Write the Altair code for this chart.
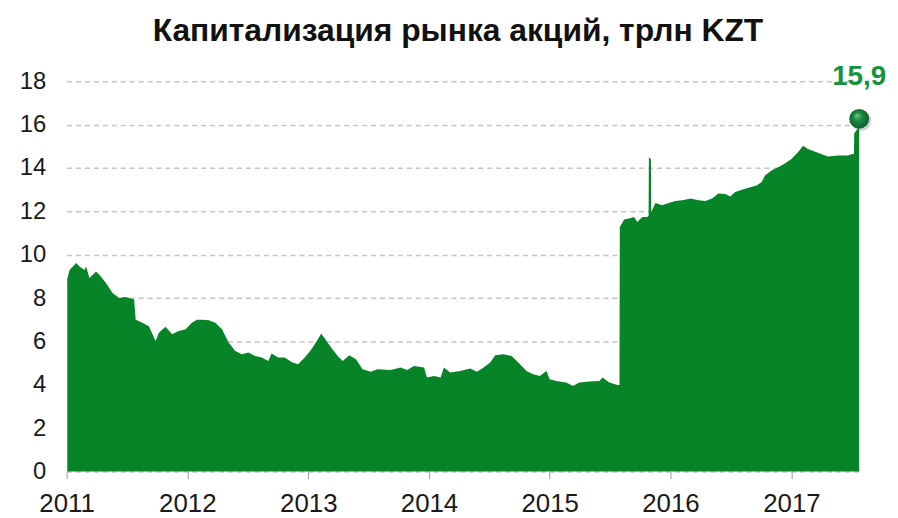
import altair as alt
import pandas as pd

dates = [
    "2011-01-03", "2011-01-10", "2011-01-30", "2011-02-09", "2011-02-24", "2011-03-01",
    "2011-03-11", "2011-03-31", "2011-04-10", "2011-04-30", "2011-05-20", "2011-06-09",
    "2011-06-29", "2011-07-19", "2011-07-24", "2011-07-29", "2011-08-18", "2011-09-07",
    "2011-09-27", "2011-10-07", "2011-10-27", "2011-11-16", "2011-12-06", "2011-12-27",
    "2012-01-15", "2012-01-30", "2012-02-14", "2012-03-06", "2012-03-26", "2012-04-15",
    "2012-05-05", "2012-05-25", "2012-06-14", "2012-07-04", "2012-07-24", "2012-08-13",
    "2012-09-02", "2012-09-12", "2012-10-02", "2012-10-22", "2012-11-11", "2012-12-01",
    "2012-12-21", "2013-01-10", "2013-01-30", "2013-02-09", "2013-02-24", "2013-03-11",
    "2013-03-31", "2013-04-15", "2013-05-05", "2013-05-25", "2013-06-14", "2013-07-09",
    "2013-07-29", "2013-09-07", "2013-10-07", "2013-10-27", "2013-11-16", "2013-12-17",
    "2013-12-26", "2014-01-16", "2014-02-05", "2014-02-15", "2014-03-06", "2014-04-05",
    "2014-05-06", "2014-05-26", "2014-06-15", "2014-07-05", "2014-07-20", "2014-08-14",
    "2014-09-08", "2014-09-28", "2014-10-23", "2014-11-12", "2014-12-02", "2014-12-22",
    "2015-01-01", "2015-01-21", "2015-02-20", "2015-03-12", "2015-04-01", "2015-05-01",
    "2015-05-31", "2015-06-10", "2015-06-30", "2015-07-25", "2015-07-31", "2015-08-01",
    "2015-08-14", "2015-08-29", "2015-09-13", "2015-09-23", "2015-10-08", "2015-10-23",
    "2015-10-27", "2015-10-28", "2015-11-03", "2015-11-04", "2015-11-17", "2015-12-07",
    "2015-12-27", "2016-01-16", "2016-02-06", "2016-03-02", "2016-03-26", "2016-04-16",
    "2016-05-06", "2016-05-25", "2016-06-15", "2016-06-30", "2016-07-15", "2016-08-04",
    "2016-08-24", "2016-09-18", "2016-10-03", "2016-10-13", "2016-11-02", "2016-11-22",
    "2016-12-12", "2017-01-01", "2017-01-21", "2017-02-05", "2017-02-20", "2017-03-12",
    "2017-04-01", "2017-04-21", "2017-05-21", "2017-06-20", "2017-07-05", "2017-07-09",
    "2017-07-10", "2017-07-25",
]
values = [
    8.88, 9.30, 9.62, 9.46, 9.30, 9.46,
    8.93, 9.23, 9.08, 8.70, 8.24, 8.00,
    8.05, 7.96, 7.95, 7.00, 6.86, 6.70,
    6.02, 6.40, 6.68, 6.33, 6.48, 6.56,
    6.86, 7.00, 7.00, 6.98, 6.86, 6.56,
    5.95, 5.56, 5.41, 5.49, 5.33, 5.26,
    5.10, 5.45, 5.26, 5.26, 5.05, 4.95,
    5.26, 5.63, 6.10, 6.37, 6.05, 5.72,
    5.33, 5.10, 5.36, 5.18, 4.72, 4.60,
    4.72, 4.68, 4.80, 4.68, 4.87, 4.80,
    4.34, 4.41, 4.34, 4.80, 4.57, 4.64,
    4.75, 4.60, 4.80, 5.03, 5.36, 5.41,
    5.33, 5.03, 4.64, 4.49, 4.41, 4.64,
    4.26, 4.18, 4.11, 3.95, 4.11, 4.15,
    4.18, 4.34, 4.11, 3.99, 3.99, 11.28,
    11.62, 11.67, 11.74, 11.51, 11.74, 11.74,
    11.80, 14.49, 14.40, 11.97, 12.38, 12.28,
    12.38, 12.48, 12.51, 12.59, 12.51, 12.48,
    12.59, 12.82, 12.80, 12.69, 12.89, 13.00,
    13.09, 13.19, 13.35, 13.65, 13.88, 14.03,
    14.21, 14.41, 14.72, 15.03, 14.87, 14.76,
    14.64, 14.53, 14.57, 14.57, 14.64, 14.64,
    15.60, 15.90,
]
y_ticks = [0, 2, 4, 6, 8, 10, 12, 14, 16, 18]
title_text = "Капитализация рынка акций, трлн KZT"

df = pd.DataFrame({"date": dates, "value": values})
last = pd.DataFrame({
    "date": [dates[-1]],
    "value": [values[-1]],
    "label": [f"{values[-1]:.1f}".replace(".", ",")],
})

FONT = "Liberation Sans"
GREEN = "#078328"

x_enc = alt.X(
    "date:T",
    scale=alt.Scale(type="utc", domain=["2011-01-01", dates[-1]]),
    axis=alt.Axis(
        title=None, format="%Y", tickCount={"interval": "year", "step": 1},
        grid=False, domain=False, ticks=True, tickColor="#9a9a9a", tickSize=7,
        tickWidth=1, labelFontSize=26, labelColor="#1a1a1a", labelFont=FONT,
        labelPadding=12, labelFlush=False,
    ),
)
y_enc = alt.Y(
    "value:Q",
    scale=alt.Scale(domain=[0, 18], nice=False),
    axis=alt.Axis(
        title=None, values=y_ticks, grid=True, gridColor="#c4c4c4",
        gridDash=[5, 4], gridWidth=1.5, domain=False, ticks=False,
        labelFontSize=24, labelColor="#1a1a1a", labelFont=FONT, labelPadding=21,
    ),
)

area = alt.Chart(df).mark_area(color=GREEN, interpolate="linear", opacity=1).encode(
    x=x_enc, y=y_enc
)

shadow = alt.Chart(last).mark_circle(
    size=420, color="#555555", opacity=0.25, xOffset=2, yOffset=-6
).encode(x="date:T", y="value:Q")

ball = alt.Chart(last).mark_circle(
    size=400,
    opacity=1,
    color=alt.RadialGradient(
        gradient="radial",
        x1=0.38, y1=0.32, r1=0.0,
        x2=0.5, y2=0.5, r2=0.6,
        stops=[
            alt.GradientStop(offset=0, color="#6fcf8a"),
            alt.GradientStop(offset=0.35, color="#1f8a45"),
            alt.GradientStop(offset=1, color="#0a5424"),
        ],
    ),
    yOffset=-8,
).encode(x="date:T", y="value:Q")

label = alt.Chart(last).mark_text(
    font=FONT, fontSize=28, fontWeight="bold", color="#16923a",
    yOffset=-50, align="center", baseline="middle", dx=0,
).encode(x="date:T", y="value:Q", text="label:N")

chart = (
    alt.layer(area, shadow, ball, label)
    .properties(
        width=798,
        height=393,
        autosize=alt.AutoSizeParams(type="none"),
        padding={"left": 59, "top": 72, "right": 31, "bottom": 45},
        title=alt.TitleParams(
            title_text, font=FONT, fontSize=32, fontWeight="bold", color="#111111",
            anchor="middle", frame="group", offset=32, baseline="alphabetic",
            dx=-5, dy=42,
        ),
    )
    .configure_view(stroke=None)
)

chart.save("out.html", embed_options={"renderer": "svg", "actions": False})
